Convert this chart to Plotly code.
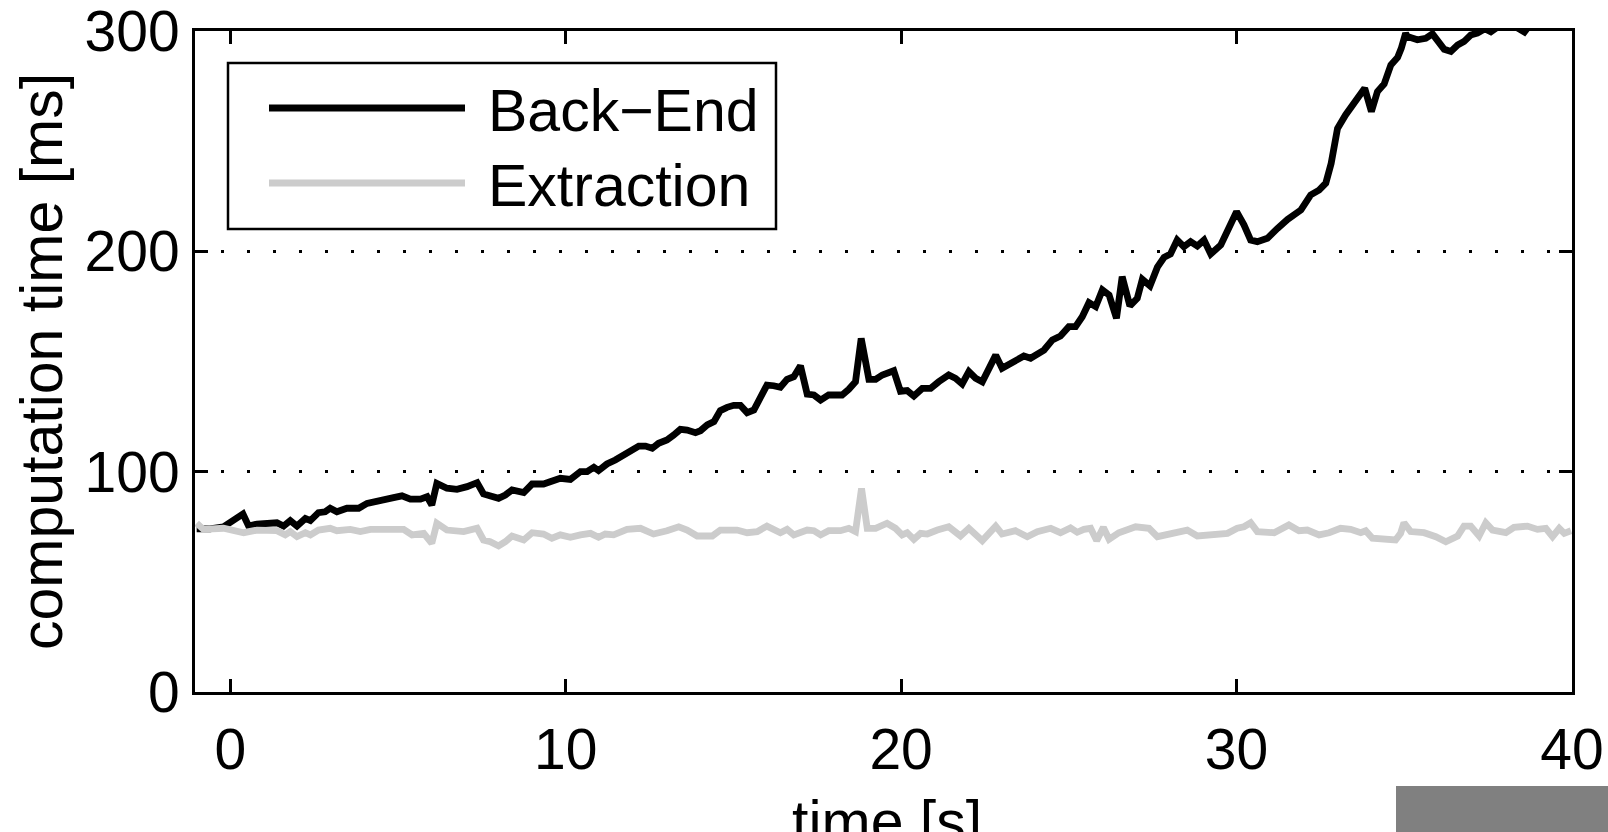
import plotly.graph_objects as go

# ---- data -------------------------------------------------------------
series_names = ["Back\u2212End", "Extraction"]

backend_t = [
    -1.0, -0.6, -0.2, 0.0, 0.38, 0.55, 0.8, 1.39, 1.59, 1.79, 1.99, 2.24, 2.39,
    2.63, 2.83, 2.98, 3.18, 3.48, 3.68, 3.83, 4.08, 4.37, 4.57, 4.87, 5.12, 5.37,
    5.67, 5.87, 6.01, 6.16, 6.46, 6.76, 7.06, 7.36, 7.55, 7.75, 8.0, 8.2, 8.4,
    8.75, 9.0, 9.34, 9.59, 9.84, 10.14, 10.44, 10.64, 10.84, 10.98, 11.23, 11.48,
    11.78, 11.98, 12.18, 12.38, 12.58, 12.77, 13.02, 13.22, 13.42, 13.62, 13.87,
    14.02, 14.22, 14.42, 14.61, 14.81, 15.01, 15.21, 15.41, 15.61, 15.81, 16.0,
    16.2, 16.4, 16.6, 16.8, 17.0, 17.2, 17.4, 17.6, 17.84, 18.24, 18.44, 18.64,
    18.81, 19.04, 19.24, 19.44, 19.78, 19.98, 20.18, 20.38, 20.63, 20.88, 21.12,
    21.42, 21.62, 21.82, 22.02, 22.22, 22.42, 22.62, 22.82, 23.01, 23.31, 23.66,
    23.86, 24.06, 24.26, 24.51, 24.75, 25.0, 25.2, 25.4, 25.6, 25.8, 26.0, 26.2,
    26.42, 26.59, 26.82, 27.04, 27.19, 27.42, 27.64, 27.84, 28.03, 28.23, 28.43,
    28.63, 28.83, 29.03, 29.23, 29.53, 29.77, 30.0, 30.22, 30.42, 30.62, 30.92,
    31.22, 31.52, 31.92, 32.21, 32.46, 32.66, 32.82, 33.01, 33.25, 33.5, 33.65,
    33.82, 34.02, 34.2, 34.4, 34.6, 34.8, 34.91, 35.04, 35.09, 35.39, 35.64,
    35.84, 36.19, 36.39, 36.59, 36.78, 36.98, 37.18, 37.4, 37.58, 37.8, 38.2,
    38.58, 38.8, 39.4, 40.0,
]
backend_ms = [
    74.0, 74.0, 75.0, 77.3, 80.8, 75.3, 76.2, 76.8, 75.3, 77.8, 75.3, 78.8, 77.8,
    81.4, 81.8, 83.4, 81.8, 83.4, 83.8, 83.4, 85.6, 86.4, 86.7, 88.2, 89.0, 87.5,
    87.5, 88.6, 84.9, 94.7, 92.5, 92.0, 93.2, 95.0, 89.9, 89.0, 87.9, 89.4, 91.7,
    90.5, 94.4, 94.4, 95.5, 97.0, 96.5, 100.0, 100.0, 102.0, 100.5, 103.5, 105.3,
    108.3, 109.8, 111.6, 111.6, 110.6, 112.9, 114.4, 116.6, 119.2, 118.9, 117.7,
    118.6, 121.2, 122.7, 127.7, 129.2, 130.1, 130.1, 126.8, 128.0, 133.8, 139.3,
    139.0, 138.3, 141.9, 143.1, 148.0, 135.2, 134.8, 132.5, 134.8, 134.8, 137.4, 140.8,
    160.5, 141.9, 141.9, 143.9, 145.8, 136.5, 136.8, 134.3, 137.8, 137.8, 140.8,
    143.9, 142.4, 139.8, 145.4, 142.4, 140.8, 146.9, 152.9, 146.9, 149.2, 152.5,
    151.5, 153.7, 155.2, 159.8, 161.6, 165.8, 165.8, 170.3, 176.7, 174.9, 182.5, 180.2,
    169.6, 188.5, 175.2, 178.7, 187.3, 184.3, 192.8, 197.3, 198.8, 205.1, 202.1,
    204.4, 202.4, 205.1, 198.8, 202.9, 210.4, 218.0, 212.0, 205.1, 204.4, 205.9,
    210.4, 214.5, 218.8, 225.6, 227.8, 230.9, 239.9, 255.8, 261.9, 267.2, 270.9,
    274.0, 263.4, 272.5, 275.9, 284.6, 288.0, 292.1, 299.0, 297.5, 296.0, 296.7,
    298.7, 291.7, 290.7, 293.6, 295.2, 298.2, 299.0, 301.0, 299.6, 302.0, 303.0,
    299.5, 304.0, 310.0, 314.0,
]

extraction_t = [
    -1.0, -0.8, -0.2, 0.4, 0.8, 1.39, 1.64, 1.79, 1.99, 2.24, 2.39, 2.63, 2.98,
    3.18, 3.58, 3.88, 4.18, 5.17, 5.42, 5.77, 6.01, 6.16, 6.46, 6.96, 7.36, 7.55,
    7.75, 8.0, 8.2, 8.4, 8.75, 9.0, 9.34, 9.59, 9.84, 10.14, 10.44, 10.74, 10.98,
    11.18, 11.43, 11.83, 12.23, 12.62, 13.02, 13.37, 13.62, 13.92, 14.37, 14.61,
    15.11, 15.41, 15.71, 16.0, 16.4, 16.6, 16.8, 17.2, 17.4, 17.6, 17.84, 18.19,
    18.44, 18.64, 18.82, 18.99, 19.24, 19.58, 19.83, 20.03, 20.18, 20.38, 20.58,
    20.78, 21.08, 21.42, 21.77, 22.02, 22.42, 22.82, 23.01, 23.41, 23.76, 24.06,
    24.46, 24.75, 25.05, 25.25, 25.45, 25.65, 25.83, 26.03, 26.2, 26.49, 26.99,
    27.39, 27.64, 28.03, 28.53, 28.83, 29.73, 30.02, 30.22, 30.42, 30.62, 31.12,
    31.56, 31.86, 32.11, 32.46, 32.76, 33.1, 33.4, 33.7, 33.85, 34.05, 34.4,
    34.74, 34.89, 34.99, 35.19, 35.59, 35.94, 36.24, 36.59, 36.78, 36.98, 37.23,
    37.43, 37.63, 38.03, 38.27, 38.67, 38.97, 39.22, 39.42, 39.62, 39.77, 39.97,
]
extraction_ms = [
    76.6, 73.8, 74.3, 72.3, 73.5, 73.2, 71.3, 72.8, 70.5, 72.3, 71.3, 73.5, 74.3,
    73.2, 73.8, 72.8, 73.8, 73.8, 71.3, 72.0, 67.5, 76.6, 73.5, 72.8, 74.3, 69.0,
    68.2, 66.3, 68.2, 70.8, 69.0, 72.3, 71.7, 69.8, 71.3, 70.2, 71.3, 72.0, 70.2,
    71.7, 71.3, 73.8, 74.3, 71.7, 73.2, 75.0, 73.5, 70.8, 70.8, 73.5,
    73.5, 72.3, 72.8, 75.3, 72.3, 73.8, 71.3, 73.5, 73.2, 71.3, 73.2, 73.2,
    74.3, 72.8, 92.4, 74.3, 74.3, 76.6, 74.3, 71.3, 72.3, 69.3, 72.0,
    71.7, 73.5, 75.0, 70.8, 74.3, 68.7, 75.3, 71.7, 73.2, 70.5, 72.8,
    74.3, 72.3, 74.5, 72.5, 73.8, 74.3, 68.7, 74.7, 69.3, 72.3, 75.0,
    74.3, 70.5, 71.7, 73.5, 70.8, 72.0, 74.3, 75.0, 76.8, 72.8, 72.3,
    75.8, 73.2, 73.5, 71.3, 72.3, 74.3, 73.8, 72.3, 73.2, 69.8, 69.0,
    69.0, 72.0, 76.8, 72.8, 72.3, 70.5, 68.2, 70.8, 75.3, 75.3, 70.8,
    76.8, 73.5, 72.3, 74.7, 75.3, 73.8, 74.3, 70.5, 74.3, 72.0, 73.2,
]

x_ticks = [0, 10, 20, 30, 40]
y_ticks = [0, 100, 200, 300]
x_title = "time [s]"
y_title = "computation time [ms]"

# ---- styling ----------------------------------------------------------
FONT = "Liberation Sans, Arial, Helvetica, sans-serif"
FS_TICK = 57
FS_TEXT = 59
W, H = 1608, 832
ML, MR, MT, MB = 195, 36, 31, 140
PW, PH = W - ML - MR, H - MT - MB
colors = ["#000000", "#cccccc"]
LW = 6.8


def px_x(p):
    """Pixel column -> paper x."""
    return (p - ML) / PW


def px_y(p):
    """Pixel row -> paper y."""
    return (H - MB - p) / PH


fig = go.Figure()
fig.add_trace(go.Scatter(x=backend_t, y=backend_ms, mode="lines", name=series_names[0],
                         line=dict(color=colors[0], width=LW), showlegend=False))
fig.add_trace(go.Scatter(x=extraction_t, y=extraction_ms, mode="lines", name=series_names[1],
                         line=dict(color=colors[1], width=LW), showlegend=False))

axis_common = dict(
    showline=True, linecolor="black", linewidth=3, mirror="ticks",
    ticks="inside", ticklen=13, tickwidth=2.5, tickcolor="black",
    tickfont=dict(family=FONT, size=FS_TICK, color="black"),
    zeroline=False, ticklabeloverflow="allow", automargin=False,
)

fig.update_xaxes(range=[-1.05, 40], tickvals=x_ticks, showgrid=False,
                 ticklabelstandoff=6, **axis_common)
fig.update_yaxes(range=[0, 300], tickvals=y_ticks, showgrid=True,
                 gridcolor="black", gridwidth=2.5, griddash="3px,23px",
                 ticklabelstandoff=1, **axis_common)

# legend drawn as a framed box with line samples
shapes = [
    dict(type="rect", xref="paper", yref="paper", layer="above",
         x0=px_x(228), x1=px_x(776), y0=px_y(63), y1=px_y(229),
         line=dict(color="black", width=2.5), fillcolor="white"),
]
annotations = []
rows = [108, 183]
for name, col, row in zip(series_names, colors, rows):
    shapes.append(dict(type="line", xref="paper", yref="paper", layer="above",
                       x0=px_x(269), x1=px_x(465), y0=px_y(row), y1=px_y(row),
                       line=dict(color=col, width=LW)))
    annotations.append(dict(text=name, xref="paper", yref="paper",
                            x=px_x(486), y=px_y(row + 3), xanchor="left", yanchor="middle",
                            showarrow=False, font=dict(family=FONT, size=FS_TEXT, color="black")))

# grey block in the lower right corner of the page
shapes.append(dict(type="rect", xref="paper", yref="paper", layer="above",
                   x0=px_x(1396), x1=px_x(1612), y0=px_y(786), y1=px_y(836),
                   line=dict(width=0), fillcolor="#808080"))

# axis titles
annotations.append(dict(text=x_title, xref="paper", yref="paper", x=px_x(887), y=0,
                        xanchor="center", yanchor="top", yshift=-95, showarrow=False,
                        font=dict(family=FONT, size=FS_TEXT, color="black")))
annotations.append(dict(text=y_title, xref="paper", yref="paper", x=0, y=px_y(362),
                        xanchor="center", yanchor="middle", xshift=42 - ML, textangle=-90,
                        showarrow=False, font=dict(family=FONT, size=FS_TEXT, color="black")))

fig.update_layout(
    width=W, height=H,
    margin=dict(l=ML, r=MR, t=MT, b=MB, pad=0, autoexpand=False),
    paper_bgcolor="white", plot_bgcolor="white",
    shapes=shapes, annotations=annotations,
    showlegend=False,
)

fig.write_html("out.html", config={"displayModeBar": False})
